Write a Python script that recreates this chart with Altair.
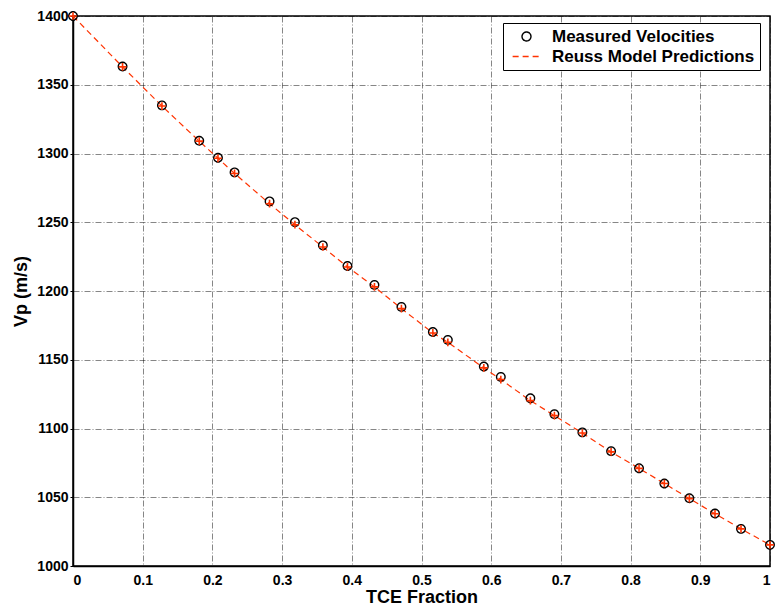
import altair as alt
import pandas as pd

tce = [0.0, 0.0711, 0.1276, 0.1811, 0.208, 0.2318, 0.282, 0.3184, 0.3585, 0.3938,
       0.4325, 0.4712, 0.5163, 0.5378, 0.5894, 0.6138, 0.6562, 0.6907, 0.7308, 0.772,
       0.8121, 0.8484, 0.8843, 0.9211, 0.9584, 1.0]
measured = [1400, 1363.3, 1335.0, 1309.3, 1296.9, 1286.3, 1265.2, 1250.1, 1233.2, 1218.2,
            1204.4, 1188.4, 1170.2, 1164.4, 1145.1, 1137.5, 1122.0, 1110.4, 1097.2, 1083.5,
            1071.1, 1060.0, 1049.3, 1038.2, 1027.0, 1015.4]
reuss = [1400, 1363.0, 1334.5, 1309.0, 1296.5, 1285.5, 1263.5, 1248.2, 1232.0, 1217.5,
         1203.0, 1187.2, 1169.5, 1162.7, 1144.1, 1135.6, 1120.3, 1109.4, 1096.7, 1083.0,
         1071.0, 1060.0, 1049.0, 1038.0, 1027.0, 1015.4]
series_names = ["Measured Velocities", "Reuss Model Predictions"]
x_ticks = [0, 0.1, 0.2, 0.3, 0.4, 0.5, 0.6, 0.7, 0.8, 0.9, 1]
y_ticks = [1000, 1050, 1100, 1150, 1200, 1250, 1300, 1350, 1400]

RED = "#ff3300"

df = pd.concat([
    pd.DataFrame({"x": tce, "v": measured, "series": series_names[0]}),
    pd.DataFrame({"x": tce, "v": reuss, "series": series_names[1]}),
])

font = "Liberation Sans"

xenc = alt.X("x:Q", scale=alt.Scale(domain=[0, 1], nice=False, zero=False),
             axis=alt.Axis(title="TCE Fraction", values=x_ticks,
                           labelExpr="datum.value == 0 ? '0' : datum.value == 1 ? '1' : format(datum.value, '.1f')"))
yenc = alt.Y("v:Q", scale=alt.Scale(domain=[1000, 1400], nice=False, zero=False),
             axis=alt.Axis(title="Vp (m/s)", values=y_ticks, format="d"))

color = alt.Color("series:N", scale=alt.Scale(domain=series_names, range=["black", RED]),
                  legend=alt.Legend(title=None))
shape = alt.Shape("series:N", scale=alt.Scale(domain=series_names, range=["circle", "M-3.1,0H3.1"]),
                  legend=alt.Legend(title=None))
dash = alt.StrokeDash("series:N", scale=alt.Scale(domain=series_names, range=[[1, 0], [6, 4]]),
                      legend=alt.Legend(title=None))

base = alt.Chart(df)

line = base.transform_filter(alt.datum.series == series_names[1]).mark_line(
    strokeWidth=1.2, clip=False
).encode(x=xenc, y=yenc, color=color, strokeDash=dash)

plus = base.transform_filter(alt.datum.series == series_names[1]).mark_point(
    shape="M-1,0H1M0,-1V1", size=60, filled=False, strokeWidth=1.6, color=RED,
    opacity=1, clip=False
).encode(x=xenc, y=yenc)

pts = base.transform_filter(alt.datum.series == series_names[0]).mark_point(
    filled=False, size=72, strokeWidth=1.4, opacity=1, clip=False
).encode(x=xenc, y=yenc, color=color, shape=shape, strokeDash=dash)

chart = alt.layer(line, pts, plus).properties(
    width=697, height=550,
    autosize=alt.AutoSizeParams(type="none"),
    padding={"left": 73, "top": 16, "right": 5, "bottom": 43},
).configure_view(
    stroke="black", strokeWidth=1.5
).configure_axis(
    labelFont=font, labelFontWeight="bold", labelFontSize=14, labelColor="black",
    titleFont=font, titleFontWeight="bold", titleFontSize=18, titleColor="black",
    domainColor="black", domainWidth=1.5,
    grid=True, gridColor="black", gridWidth=0.6, gridDash=[6, 2, 1, 2], gridOpacity=0.8,
).configure_axisX(
    ticks=False, labelPadding=7, titlePadding=1
).configure_axisY(
    ticks=True, tickSize=3, tickColor="black", tickWidth=1,
    labelPadding=2, titlePadding=6
).configure_legend(
    orient="none", legendX=430, legendY=7,
    fillColor="white", strokeColor="black", padding=5,
    labelFont=font, labelFontWeight="bold", labelFontSize=17, labelColor="black",
    labelLimit=400,
    symbolSize=80, symbolStrokeWidth=1.4, rowPadding=2, labelOffset=17,
    symbolOffset=10, symbolOpacity=1,
)

chart.save("out.html", embed_options={"renderer": "svg", "actions": False})
